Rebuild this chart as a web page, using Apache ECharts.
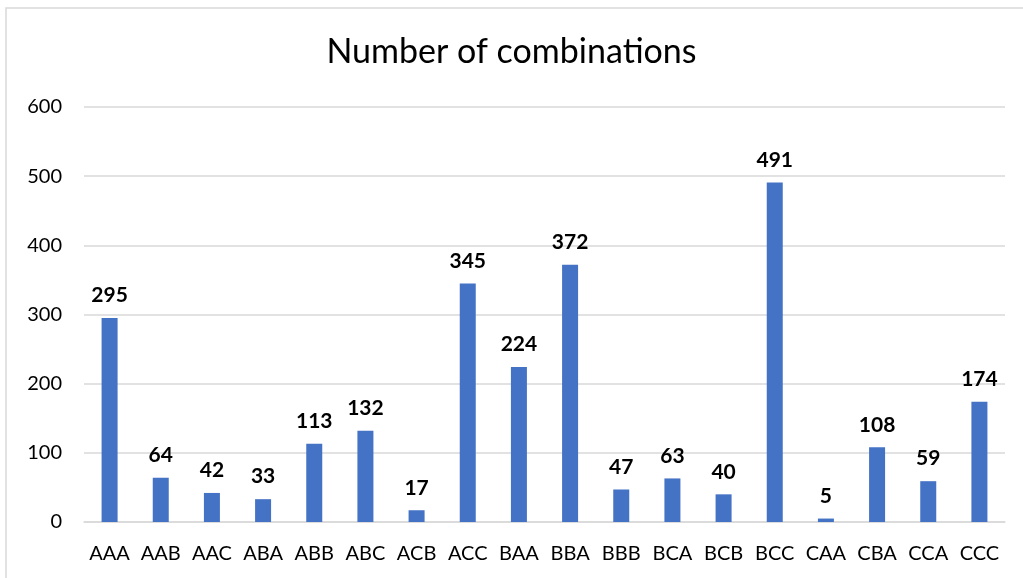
<!DOCTYPE html>
<html>
<head>
<meta charset="utf-8">
<script src="https://cdn.jsdelivr.net/npm/echarts@6/dist/echarts.min.js"></script>
<style>
  html, body { margin: 0; padding: 0; background: #ffffff; }
  #chart { width: 1023px; height: 578px; }
</style>
</head>
<body>
<div id="chart"></div>
<script>
// Combination codes along the x axis
const categories = ['AAA', 'AAB', 'AAC', 'ABA', 'ABB', 'ABC', 'ACB', 'ACC', 'BAA',
  'BBA', 'BBB', 'BCA', 'BCB', 'BCC', 'CAA', 'CBA', 'CCA', 'CCC'];
// How many times each combination occurs
const counts = [295, 64, 42, 33, 113, 132, 17, 345, 224, 372, 47, 63, 40, 491, 5, 108, 59, 174];
// Value axis ticks
const yTicks = [0, 100, 200, 300, 400, 500, 600];

const FONT = 'Lato';
const chart = echarts.init(document.getElementById('chart'), null, { renderer: 'canvas' });

chart.setOption({
  backgroundColor: '#ffffff',
  animation: false,
  textStyle: { fontFamily: FONT },
  graphic: [{
    type: 'rect',
    shape: { x: 6, y: 8, width: 1030, height: 590 },
    style: { fill: 'none', stroke: '#d9d9d9', lineWidth: 1.5 },
    silent: true
  }],
  title: {
    text: 'Number of combinations',
    left: 'center',
    top: 30,
    textStyle: { fontFamily: FONT, fontSize: 34, fontWeight: 'normal', color: '#000000' }
  },
  grid: { left: 84, right: 18, top: 107, bottom: 56, containLabel: false },
  xAxis: {
    type: 'category',
    data: categories,
    axisLine: { show: true, lineStyle: { color: '#d9d9d9', width: 1.5 } },
    axisTick: { show: false },
    axisLabel: { color: '#000000', fontSize: 20, fontFamily: FONT, margin: 22, interval: 0, hideOverlap: false }
  },
  yAxis: {
    type: 'value',
    min: yTicks[0],
    max: yTicks[yTicks.length - 1],
    interval: yTicks[1] - yTicks[0],
    axisLine: { show: false },
    axisTick: { show: false },
    splitLine: { lineStyle: { color: '#d9d9d9', width: 1.5 } },
    axisLabel: { color: '#000000', fontSize: 20, fontFamily: FONT, margin: 22 }
  },
  series: [{
    type: 'bar',
    data: counts,
    barWidth: 16,
    itemStyle: { color: '#4472C4' },
    label: {
      show: true,
      position: 'top',
      distance: 12,
      color: '#000000',
      fontSize: 21,
      fontWeight: 'bold',
      fontFamily: FONT
    }
  }]
});
</script>
</body>
</html>
